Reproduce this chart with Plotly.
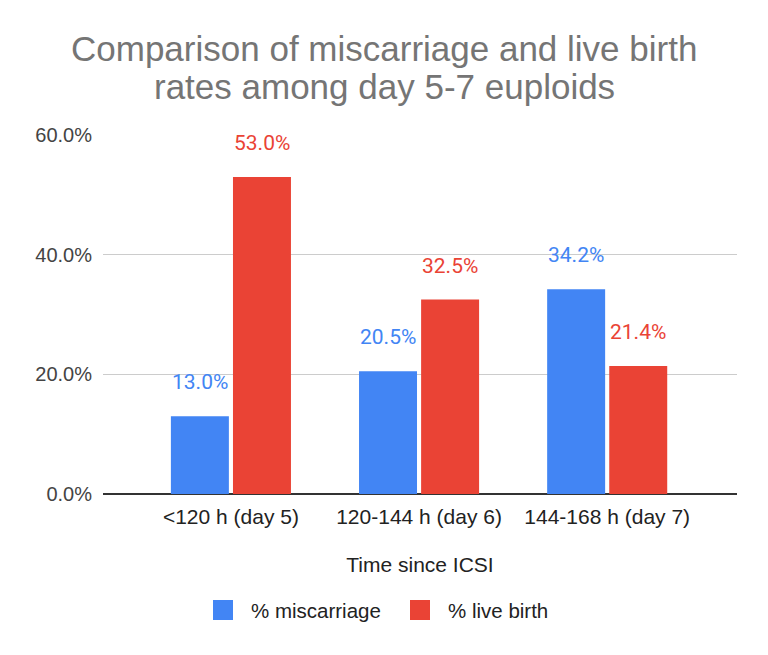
import plotly.graph_objects as go

categories = ["<120 h (day 5)", "120-144 h (day 6)", "144-168 h (day 7)"]
miscarriage = [0.130, 0.205, 0.342]
live_birth = [0.530, 0.325, 0.214]
series_names = ["% miscarriage", "% live birth"]
tick_vals = [0.0, 0.2, 0.4, 0.6]
tick_text = ["0.0%", "20.0%", "40.0%", "60.0%"]
title_lines = ["Comparison of miscarriage and live birth", "rates among day 5-7 euploids"]

BLUE = "#4285F4"
RED = "#EA4335"
ARIAL = "Liberation Sans, Arial"
ROBOTO = "Roboto, Arial"

fig = go.Figure()
fig.add_trace(go.Bar(x=categories, y=miscarriage, name=series_names[0], showlegend=False,
                     marker=dict(color=BLUE, line=dict(width=0))))
fig.add_trace(go.Bar(x=categories, y=live_birth, name=series_names[1], showlegend=False,
                     marker=dict(color=RED, line=dict(width=0))))

annotations = []
for vals, color, shift in [(miscarriage, BLUE, -31), (live_birth, RED, 31)]:
    for c, v in zip(categories, vals):
        annotations.append(dict(x=c, y=v, xref="x", yref="y", text=f"{v*100:.1f}%",
                                showarrow=False, xshift=shift, yshift=34,
                                font=dict(family=ROBOTO, size=21, color=color)))

# plot area: x 103..737 px, y 135..494 px
def py(pix):
    return (494 - pix) / 359.0

def px(pix):
    return (pix - 103) / 634.0

for line, ypix in zip(title_lines, [48, 86]):
    annotations.append(dict(x=px(384), y=py(ypix), xref="paper", yref="paper", text=line,
                            showarrow=False, xanchor="center", yanchor="middle",
                            font=dict(family=ARIAL, size=35, color="#757575")))

# custom legend
shapes = []
for name, color, sq_x, tx_x in [(series_names[0], BLUE, 213, 249), (series_names[1], RED, 410, 446)]:
    shapes.append(dict(type="rect", xref="paper", yref="paper",
                       x0=px(sq_x), x1=px(sq_x + 20), y0=py(600), y1=py(620),
                       fillcolor=color, line=dict(width=0)))
    annotations.append(dict(x=px(tx_x), y=py(610), xref="paper", yref="paper", text=name,
                            showarrow=False, xanchor="left", yanchor="middle",
                            font=dict(family=ARIAL, size=20.5, color="#222222")))

fig.update_layout(
    width=768, height=655,
    paper_bgcolor="white", plot_bgcolor="white",
    margin=dict(l=103, r=31, t=135, b=161),
    barmode="group", bargap=0.34, bargroupgap=0.066,
    showlegend=False,
    xaxis=dict(range=[-0.68, 2.69], showgrid=False, showline=False, ticks="",
               ticklabelstandoff=8,
               tickfont=dict(family=ARIAL, size=21, color="#222222"),
               title=dict(text="Time since ICSI", standoff=30,
                          font=dict(family=ARIAL, size=21, color="#222222"))),
    yaxis=dict(range=[0, 0.6], tickvals=tick_vals, ticktext=tick_text,
               showgrid=True, gridcolor="#cccccc", gridwidth=1,
               zeroline=True, zerolinecolor="#333333", zerolinewidth=1.5,
               showline=False, ticks="", ticklabelstandoff=10,
               tickfont=dict(family=ARIAL, size=20, color="#444444")),
    annotations=annotations,
    shapes=shapes,
)

fig.write_html("out.html")
